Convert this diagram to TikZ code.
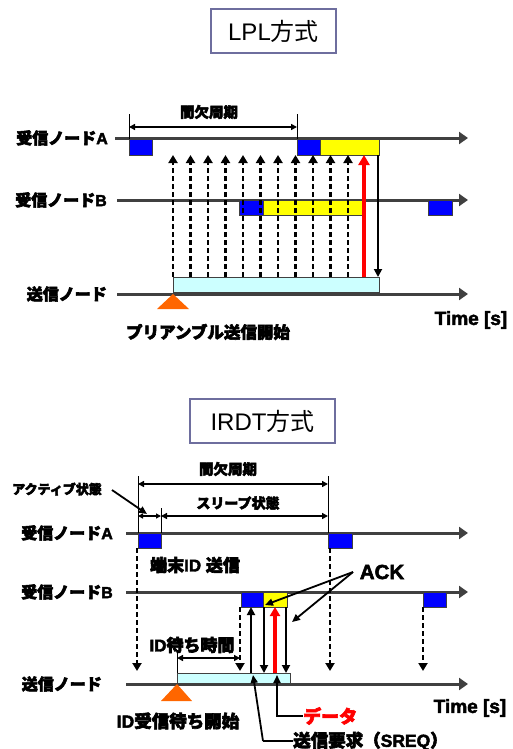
\documentclass[tikz,border=0pt]{standalone}
\usepackage{fontspec}
\setmainfont{Liberation Sans}[BoldFeatures={FakeBold=2.5}]
\newfontfamily\jp{Noto Sans CJK JP}[BoldFeatures={FakeBold=3.5}]
\usetikzlibrary{arrows.meta,calc}
\definecolor{tl}{HTML}{404040}
\definecolor{boxblue}{HTML}{0000FF}
\definecolor{boxyel}{HTML}{FFFF00}
\definecolor{boxcyan}{HTML}{CCFFFF}
\definecolor{tri}{HTML}{FF6600}
\definecolor{frame}{HTML}{6E6E9E}
\definecolor{datared}{HTML}{FF0000}
\begin{document}
\begin{tikzpicture}[x=1pt,y=-1pt,
  timeline/.style={draw=tl,line width=3pt,-{Triangle[length=9pt,width=12pt]}},
  blk/.style={draw=black!75,line width=0.8pt,anchor=north west,inner sep=0pt,outer sep=0pt,minimum height=16pt},
  bluebox/.style={blk,fill=boxblue},
  yelbox/.style={blk,fill=boxyel},
  cyanbox/.style={draw=tl,line width=0.8pt,fill=boxcyan,anchor=north west,inner sep=0pt,outer sep=0pt},
  titlebox/.style={draw=frame,line width=1.8pt,inner sep=0pt,font=\fontsize{24}{28}\selectfont},
  lab/.style={font=\bfseries\fontsize{16}{18}\selectfont,inner sep=0pt},
  dashar/.style={dashed,dash pattern=on 5pt off 3pt,line width=2.8pt,-{Triangle[length=8pt,width=9pt]}},
  solar/.style={line width=1.8pt,-{Triangle[length=8pt,width=8pt]}},
  redar/.style={draw=datared,line width=3.5pt,-{Triangle[length=10pt,width=11pt]}},
  dimar/.style={line width=1.8pt,{Triangle[length=6pt,width=6pt]}-{Triangle[length=6pt,width=6pt]}},
  tick/.style={line width=0.8pt},
  ptr/.style={line width=1.8pt,-{Triangle[length=8pt,width=7pt]}}
]
\useasboundingbox (0,0) rectangle (513,749);

% ================= LPL =================
\node[titlebox,minimum width=125pt,minimum height=44pt] (t1) at (273.5,31) {LPL{\jp 方式}};

% labels
\node[lab,anchor=east] (la) at (108,138) {{\jp 受信ノード}A};
\node[lab,anchor=east] (lb) at (107,200) {{\jp 受信ノード}B};
\node[lab,anchor=east] (ls) at (107,294) {{\jp 送信ノード}};

% timelines
\coordinate (as) at (115,138); \coordinate (ae) at (468,138);
\coordinate (bs) at (117,200); \coordinate (be) at (468,200);
\coordinate (ss) at (117,294); \coordinate (se) at (468,294);
\draw[timeline] (as) -- (ae);
\draw[timeline] (bs) -- (be);
\draw[timeline] (ss) -- (se);

% boxes A
\node[bluebox,minimum width=23pt] (a1) at (129,139) {};
\node[bluebox,minimum width=23pt] (a2) at (297,139) {};
\node[yelbox,minimum width=59pt] (ya) at (320,139) {};
% boxes B
\node[bluebox,minimum width=24pt,minimum height=15pt] (b1) at (239,200) {};
\node[yelbox,minimum width=100pt,minimum height=15pt] (yb) at (263,200) {};
\node[bluebox,minimum width=24pt,minimum height=15pt] (b2) at (428,200) {};
% sender preamble
\node[cyanbox,minimum width=206pt,minimum height=15pt] (cy1) at (173,277) {};
\fill[tri] (173,294) -- (157,309) -- (189,309) -- cycle;

% period dimension
\draw[tick] (a1.north west) -- ++(0,-25);
\draw[tick] (a2.north west) -- ++(0,-25);
\draw[dimar] ([yshift=12pt]a1.north west) -- ([yshift=12pt]a2.north west);
\node[lab,font=\bfseries\fontsize{14.5}{16}\selectfont] (p1) at (209,112) {\jp 間欠周期};

% preamble dashed arrows
\foreach \i in {0,...,10}{
  \path ([xshift=\i*17.5pt]cy1.north west) coordinate (d\i);
  \draw[dashar] (d\i) -- (d\i |- a1.south);
}
% data (red) and ack
\coordinate (rd) at (364,277);
\draw[redar] (rd) -- (rd |- ya.south);
\draw[solar] ([xshift=-1pt]ya.south east) -- ([xshift=-1pt]cy1.north east);

\node[lab,font=\bfseries\fontsize{16.5}{18}\selectfont] (pre) at (208,332) {\jp プリアンブル送信開始};
\node[lab,font=\bfseries\fontsize{19}{22}\selectfont] (time1) at (471,320) {Time [s]};

% ================= IRDT =================
\node[titlebox,minimum width=145pt,minimum height=44pt] (t2) at (262.5,421) {IRDT{\jp 方式}};

\node[lab,anchor=east] (la2) at (113,533) {{\jp 受信ノード}A};
\node[lab,anchor=east] (lb2) at (113,592) {{\jp 受信ノード}B};
\node[lab,anchor=east] (ls2) at (102,684) {{\jp 送信ノード}};

\coordinate (as2) at (126,533); \coordinate (ae2) at (468,533);
\coordinate (bs2) at (126,592); \coordinate (be2) at (468,592);
\coordinate (ss2) at (126,684); \coordinate (se2) at (468,684);
\draw[timeline] (as2) -- (ae2);
\draw[timeline] (bs2) -- (be2);
\draw[timeline] (ss2) -- (se2);

\node[bluebox,minimum width=23pt,minimum height=15pt] (c1) at (138,533) {};
\node[bluebox,minimum width=24pt,minimum height=15pt] (c2) at (328,533) {};
\node[bluebox,minimum width=22pt,minimum height=15pt] (e1) at (241,592) {};
\node[yelbox,minimum width=24pt,minimum height=15pt] (ye) at (263,592) {};
\node[bluebox,minimum width=23pt,minimum height=15pt] (e2) at (423,592) {};
\node[cyanbox,minimum width=113pt,minimum height=10pt] (cy2) at (177,673) {};
\fill[tri] (177,684) -- (161,701) -- (192,701) -- cycle;

% dimensions
\draw[tick] (c1.north west) -- ++(0,-57);
\draw[tick] (c2.north west) -- ++(0,-57);
\draw[tick] (c1.north east) -- ++(0,-25);
\draw[dimar] ([yshift=49pt]c1.north west) -- ([yshift=49pt]c2.north west);
\draw[dimar] ([yshift=17pt]c1.north east) -- ([yshift=17pt]c2.north west);
\draw[line width=1.4pt,{Triangle[length=5pt,width=5pt]}-{Triangle[length=5pt,width=5pt]}] ([yshift=17pt]c1.north west) -- ([yshift=17pt]c1.north east);
\node[lab,font=\bfseries\fontsize{14.5}{16}\selectfont] (p2) at (228,469) {\jp 間欠周期};
\node[lab,font=\bfseries\fontsize{14}{16}\selectfont] (sl) at (238,503) {\jp スリープ状態};
\node[lab,font=\bfseries\fontsize{13}{15}\selectfont,anchor=east] (act) at (102,489) {\jp アクティブ状態};
\coordinate (actTip) at (147,514);
\draw[ptr] ([xshift=10pt,yshift=-1pt]act.east) -- (actTip);

% dashed arrows from wakeups
\draw[dashar] ([xshift=-1pt]c1.south west) -- ([xshift=-1pt,yshift=2pt]c1.south west |- cy2.north);
\draw[dashar] ([xshift=2pt]c2.south west) -- ([xshift=2pt,yshift=2pt]c2.south west |- cy2.north);
\draw[dashar] ([xshift=-1pt]e1.south west) -- ([xshift=-1pt,yshift=2pt]e1.south west |- cy2.north);
\draw[dashar] (e2.south west) -- ([yshift=2pt]e2.south west |- cy2.north);

\node[lab,font=\bfseries\fontsize{17}{19}\selectfont] (tid) at (195,565) {{\jp 端末}ID {\jp 送信}};

% exchange
\draw[solar] ([xshift=10pt]e1.south west |- cy2.north) -- ([xshift=10pt]e1.south west);
\draw[solar] ([xshift=1pt]ye.south west) -- ([xshift=1pt]ye.south west |- cy2.north);
\draw[redar,-{Triangle[length=9pt,width=10pt]}] ([xshift=12pt]ye.south west |- cy2.north) -- ([xshift=12pt]ye.south west);
\draw[solar] ([xshift=-1pt]ye.south east) -- ([xshift=-1pt]ye.south east |- cy2.north);

% ID wait
\draw[tick] (cy2.north west) -- ++(0,-23);
\coordinate (idl) at ([yshift=15pt]cy2.north west);
\draw[dimar] (idl) -- ([xshift=-1pt]idl -| e1.south west);
\node[lab,font=\bfseries\fontsize{17}{19}\selectfont] (idw) at (192,645) {ID{\jp 待ち時間}};
\node[lab,font=\bfseries\fontsize{17.5}{19}\selectfont] (idst) at (178,721) {ID{\jp 受信待ち開始}};

% ACK
\node[lab,font=\bfseries\fontsize{20.5}{23}\selectfont] (ack) at (382,572) {ACK};
\coordinate (ackp) at (353,572);
\coordinate (ack1) at (265,605);
\coordinate (ack2) at (292,622);
\draw[ptr] (ackp) -- (ack1);
\draw[ptr] (ackp) -- (ack2);

% data label
\node[lab,font=\bfseries\fontsize{18}{20}\selectfont,text=datared,anchor=west] (dat) at (303,716) {\jp データ};
\coordinate (datTip) at (277,675);
\draw[ptr] (dat.west) -| (datTip);

% SREQ label
\node[lab,font=\bfseries\fontsize{17.5}{19}\selectfont,anchor=west] (sreq) at (293,741) {{\jp 送信要求（}SREQ{\jp ）}};
\coordinate (sreqK) at (263,741);
\coordinate (sreqTip) at (253,675);
\draw[line width=1.8pt] (sreq.west) -- (sreqK);
\draw[ptr] (sreqK) -- (sreqTip);

\node[lab,font=\bfseries\fontsize{19}{22}\selectfont] (time2) at (470,708) {Time [s]};
\end{tikzpicture}
\end{document}
